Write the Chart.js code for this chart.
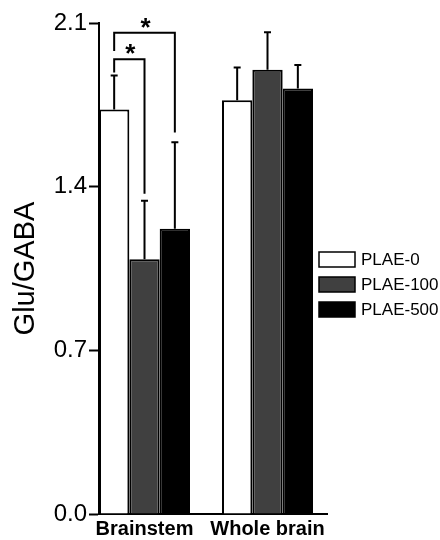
<!DOCTYPE html>
<html>
<head>
<meta charset="utf-8">
<script src="https://cdn.jsdelivr.net/npm/chart.js@4/dist/chart.umd.min.js"></script>
<style>
  html, body { margin: 0; padding: 0; background: #fff; }
  #wrap { width: 440px; height: 540px; }
</style>
</head>
<body>
<div id="wrap"><canvas id="gluChart" width="440" height="540"></canvas></div>
<script>
// values
const categories = ["Brainstem", "Whole brain"];
const seriesLabels = ["PLAE-0", "PLAE-100", "PLAE-500"];
const plae0 = [1.73, 1.77];
const plae100 = [1.09, 1.90];
const plae500 = [1.22, 1.82];
const err0 = [0.145, 0.14];
const err100 = [0.25, 0.16];
const err500 = [0.37, 0.10];
const yTicks = [0, 0.7, 1.4, 2.1];

// significance brackets (all in the Brainstem group)
const bracketFrom = [0, 0];
const bracketTo = [1, 2];
const bracketLevel = [1.945, 2.058];
const bracketLeftEnd = [1.888, 1.98];
const bracketRightEnd = [1.37, 1.632];
const bracketMark = ["*", "*"];

const FONT = "'Liberation Sans', Arial, sans-serif";
const fills = ["#ffffff", "#404040", "#000000"];
const seriesValues = [plae0, plae100, plae500];
const seriesErrors = [err0, err100, err500];

// error bars + brackets, drawn through the scales
const extrasPlugin = {
  id: "extras",
  afterDatasetsDraw(chart) {
    const ctx = chart.ctx;
    const y = chart.scales.y;
    ctx.save();
    ctx.strokeStyle = "#000";
    ctx.lineWidth = 2;
    ctx.lineCap = "butt";

    seriesValues.forEach((vals, d) => {
      const meta = chart.getDatasetMeta(d);
      meta.data.forEach((bar, i) => {
        const top = y.getPixelForValue(vals[i] + seriesErrors[d][i]);
        ctx.beginPath();
        ctx.moveTo(bar.x, bar.y);
        ctx.lineTo(bar.x, top);
        ctx.moveTo(bar.x - 3.5, top);
        ctx.lineTo(bar.x + 3.5, top);
        ctx.stroke();
      });
    });

    bracketLevel.forEach((lvl, k) => {
      const xa = chart.getDatasetMeta(bracketFrom[k]).data[0].x;
      const xb = chart.getDatasetMeta(bracketTo[k]).data[0].x;
      const yl = y.getPixelForValue(lvl);
      ctx.beginPath();
      ctx.moveTo(xa, y.getPixelForValue(bracketLeftEnd[k]));
      ctx.lineTo(xa, yl);
      ctx.lineTo(xb, yl);
      ctx.lineTo(xb, y.getPixelForValue(bracketRightEnd[k]));
      ctx.stroke();

      ctx.fillStyle = "#000";
      ctx.font = "bold 26px " + FONT;
      ctx.textAlign = "center";
      ctx.textBaseline = "alphabetic";
      ctx.fillText(bracketMark[k], (xa + xb) / 2 + 1, yl + 3);
    });
    ctx.restore();
  },
  afterDraw(chart) {
    // legend on the right
    const ctx = chart.ctx;
    ctx.save();
    seriesLabels.forEach((lab, i) => {
      const bx = 319, by = 252 + i * 25;
      ctx.fillStyle = fills[i];
      ctx.fillRect(bx, by, 36, 15);
      ctx.strokeStyle = "#000";
      ctx.lineWidth = 1.5;
      ctx.strokeRect(bx, by, 36, 15);
      ctx.fillStyle = "#000";
      ctx.font = "17px " + FONT;
      ctx.textAlign = "left";
      ctx.textBaseline = "middle";
      ctx.fillText(lab, 361, by + 8);
    });
    ctx.restore();
  }
};

new Chart(document.getElementById("gluChart"), {
  type: "bar",
  data: {
    datasets: seriesLabels.map((lab, d) => ({
      label: lab,
      data: seriesValues[d].map((v, i) => ({ x: i, y: v })),
      backgroundColor: fills[d],
      borderColor: "#000",
      borderWidth: 2,
      categoryPercentage: 0.74,
      barPercentage: 1.0,
    })),
  },
  options: {
    responsive: false,
    animation: false,
    layout: { padding: { top: 23, right: 113, bottom: 0, left: 0 } },
    plugins: {
      legend: { display: false },
      tooltip: { enabled: false },
    },
    scales: {
      x: {
        type: "linear",
        offset: false,
        min: -0.37,
        max: 1.4837,
        afterBuildTicks: (scale) => {
          scale.ticks = categories.map((c, i) => ({ value: i }));
        },
        afterFit: (scale) => { scale.height = 26; },
        grid: { display: true, drawOnChartArea: false, drawTicks: false, offset: false },
        border: { display: true, color: "#000", width: 2 },
        ticks: {
          padding: 3,
          maxRotation: 0,
          color: "#000",
          font: { family: FONT, size: 20, weight: "bold" },
          callback: (v) => categories[v],
        },
      },
      y: {
        min: 0,
        max: 2.1,
        afterBuildTicks: (scale) => {
          scale.ticks = yTicks.map((v) => ({ value: v }));
        },
        afterFit: (scale) => { scale.width = 99; },
        grid: { drawOnChartArea: false, drawTicks: true, tickLength: 10, tickColor: "#000", tickWidth: 2 },
        border: { display: true, color: "#000", width: 2 },
        ticks: {
          padding: 2,
          color: "#000",
          font: { family: FONT, size: 24 },
          callback: (v) => Number(v).toFixed(1),
        },
        title: {
          display: true,
          text: "Glu/GABA",
          color: "#000",
          font: { family: FONT, size: 29 },
          padding: { top: 9, bottom: 0 },
        },
      },
    },
  },
  plugins: [extrasPlugin],
});
</script>
</body>
</html>
